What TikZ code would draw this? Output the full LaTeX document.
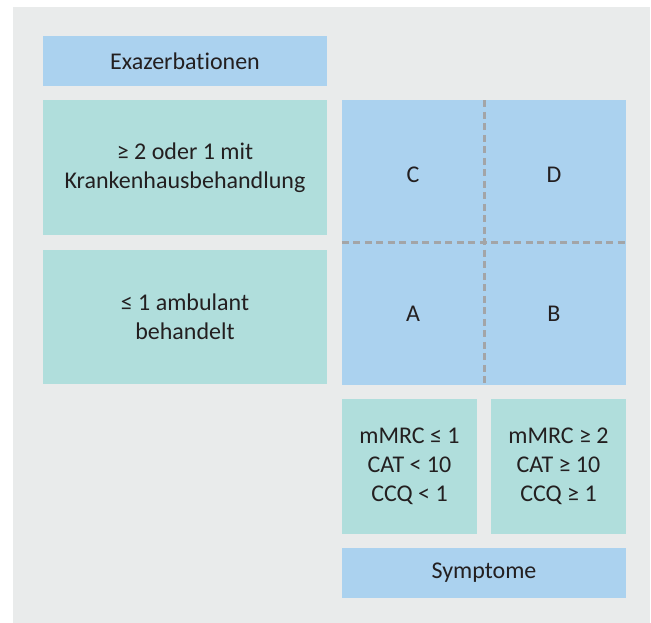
\documentclass[tikz,border=0pt]{standalone}
\usepackage{fontspec}
\setmainfont{Carlito}[Ligatures=NoCommon]
\definecolor{grau}{HTML}{E9EBEB}
\definecolor{blau}{HTML}{ABD2EF}
\definecolor{gruen}{HTML}{B0DEDC}
\definecolor{linie}{HTML}{A3A5A7}
\definecolor{schrift}{HTML}{231F20}

\begin{document}
\begin{tikzpicture}[x=1pt,y=-1pt,
        feld/.style={inner sep=0pt,align=center,text=schrift,
          font=\fontsize{24}{29}\selectfont},
        blaufeld/.style={feld,fill=blau},
        gruenfeld/.style={feld,fill=gruen},
        trenn/.style={linie,line width=3pt,dash pattern=on 7pt off 4.5pt}]
        \useasboundingbox (0,0) rectangle (651,623) ;
        \fill[grau] (13,7) rectangle (650,623) ;
        % Exazerbationen (links)
        \node[blaufeld,minimum width=284,minimum height=50] (exa) at (185,61) {Exazerbationen} ;
        \node[gruenfeld,minimum width=284,minimum height=135] (hoch) at (185,167.5)
        {≥ 2 oder 1 mit\\Krankenhausbehandlung} ;
        \node[gruenfeld,minimum width=284,minimum height=134] (niedrig) at (185,317)
        {≤ 1 ambulant\\behandelt} ;
        % Gruppen A--D
        \node[blaufeld,minimum width=284,minimum height=284] (gruppen) at (484,242.5) {} ;
        \draw[trenn] (gruppen.north) -- (gruppen.south) ;
        \draw[trenn] (gruppen.west) -- (gruppen.east) ;
        \node[feld] (C) at (413,175) {C} ;
        \node[feld] (D) at (554,175) {D} ;
        \node[feld] (A) at (413,314) {A} ;
        \node[feld] (B) at (554,314) {B} ;
        % Symptome (unten)
        \node[gruenfeld,minimum width=135,minimum height=135] (wenig) at (409.5,466.5)
        {mMRC ≤ 1\\CAT < 10\\CCQ < 1} ;
        \node[gruenfeld,minimum width=135,minimum height=135] (viel) at (558.5,466.5)
        {mMRC ≥ 2\\CAT ≥ 10\\CCQ ≥ 1} ;
        \node[blaufeld,minimum width=284,minimum height=50] (sym) at (484,573) {Symptome} ;
      \end{tikzpicture}
\end{document}
